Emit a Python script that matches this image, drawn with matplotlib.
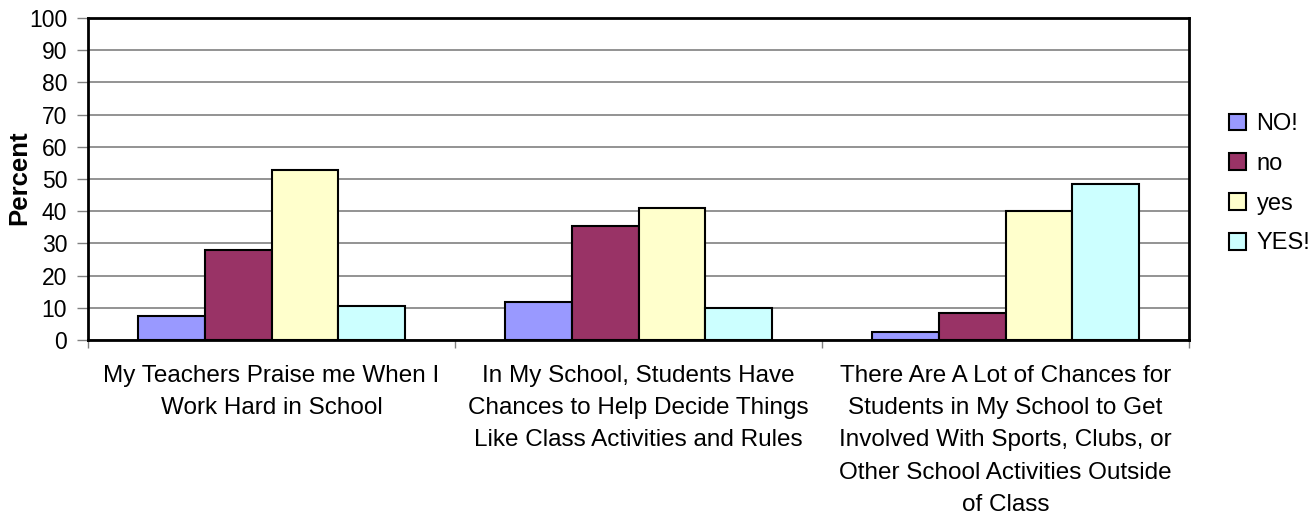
import matplotlib
matplotlib.use("Agg")
import matplotlib.pyplot as plt
import numpy as np

categories = [
    "My Teachers Praise me When I\nWork Hard in School",
    "In My School, Students Have\nChances to Help Decide Things\nLike Class Activities and Rules",
    "There Are A Lot of Chances for\nStudents in My School to Get\nInvolved With Sports, Clubs, or\nOther School Activities Outside\nof Class",
]
series_names = ["NO!", "no", "yes", "YES!"]
no_strong = [7.4, 11.7, 2.4]
no_mild = [28.0, 35.4, 8.5]
yes_mild = [52.9, 41.0, 40.0]
yes_strong = [10.5, 9.9, 48.5]
series_values = [no_strong, no_mild, yes_mild, yes_strong]
colors = ["#9999FF", "#993366", "#FFFFCC", "#CCFFFF"]
yticks = list(range(0, 101, 10))

plt.rcParams['font.family'] = ['Liberation Sans', 'DejaVu Sans']

fig = plt.figure(figsize=(13.1, 5.15), dpi=100)
ax = fig.add_axes([88/1310, 1-340/515, (1189-88)/1310, (340-18)/515])

n = len(series_names)
w = 1/5.5
x = np.arange(len(categories))
for i, (name, vals, c) in enumerate(zip(series_names, series_values, colors)):
    ax.bar(x + (i - (n-1)/2)*w, vals, width=w, color=c, edgecolor='black',
           linewidth=1.5, label=name, zorder=3)

ax.set_xlim(-0.5, len(categories)-0.5)
ax.set_ylim(0, 100)
ax.set_yticks(yticks)
ax.set_yticklabels([str(t) for t in yticks], fontsize=16.5)
ax.yaxis.grid(True, color='#808080', linewidth=1.2, zorder=0)
ax.set_axisbelow(True)

ax.set_xticks(np.arange(len(categories)+1) - 0.5)
ax.set_xticklabels([])
ax.set_xticks(x, minor=True)
ax.set_xticklabels(categories, minor=True, fontsize=17.5, linespacing=1.6, va='top')
ax.tick_params(axis='x', which='minor', length=0, pad=18)
ax.tick_params(axis='x', which='major', length=6, width=1, color='#808080')
ax.tick_params(axis='y', length=8, width=1, color='#808080', pad=7)

for s in ax.spines.values():
    s.set_linewidth(2)
    s.set_color('black')

fig.text(19/1310, 1-178/515, "Percent", fontsize=18.5, fontweight='bold',
         rotation=90, ha='center', va='center')

leg = ax.legend(loc='center left', bbox_to_anchor=(1.017, 0.485), frameon=False,
                fontsize=17, handlelength=0.72, handleheight=0.72,
                handletextpad=0.45, labelspacing=0.75)

fig.savefig("out.png", dpi=100)
